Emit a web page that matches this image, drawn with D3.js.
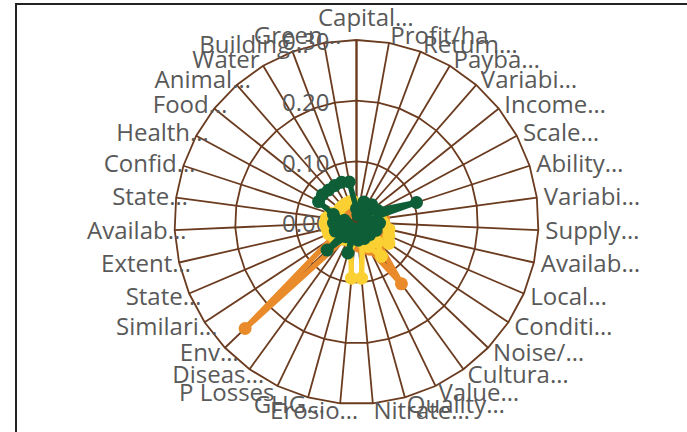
<!DOCTYPE html>
<html>
<head>
<meta charset="utf-8">
<script src="https://cdn.jsdelivr.net/npm/d3@7"></script>
<style>
  body { margin: 0; background: #fff; }
  text { font-family: "Open Sans", sans-serif; fill: #595959; }
</style>
</head>
<body>
<svg width="687" height="432"></svg>
<script>
// category labels as shown on the chart (truncated ones end with "…")
var categories = ["Capital…", "Profit/ha", "Return…", "Payba…", "Variabi…", "Income…",
  "Scale…", "Ability…", "Variabi…", "Supply…", "Availab…", "Local…", "Conditi…",
  "Noise/…", "Cultura…", "Value…", "Quality…", "Nitrate…", "Erosio…", "GHG…",
  "P Losses", "Diseas…", "Env…", "Similari…", "State…", "Extent…", "Availab…",
  "State…", "Confid…", "Health…", "Food…", "Animal…", "Water", "Building…", "Green…"];

var tickValues = [0, 0.1, 0.2, 0.3];

var seriesOrange = [0.02, 0.02, 0.02, 0.02, 0.025, 0.03, 0.035, 0.04, 0.045, 0.045,
  0.05, 0.05, 0.055, 0.05, 0.126, 0.05, 0.045, 0.04, 0.035, 0.03,
  0.03, 0.035, 0.254, 0.048, 0.045, 0.04, 0.035, 0.03, 0.025, 0.02,
  0.02, 0.02, 0.02, 0.02, 0.02];

var seriesYellow = [0.03, 0.025, 0.025, 0.025, 0.025, 0.03, 0.035, 0.035, 0.04, 0.045,
  0.055, 0.058, 0.064, 0.048, 0.07, 0.045, 0.035, 0.093, 0.093, 0.035,
  0.03, 0.035, 0.04, 0.045, 0.05, 0.05, 0.052, 0.05, 0.045, 0.035,
  0.035, 0.035, 0.035, 0.035, 0.035];

var seriesGreen = [0.022, 0.012, 0.035, 0.015, 0.038, 0.02, 0.04, 0.104, 0.015, 0.038,
  0.02, 0.035, 0.012, 0.03, 0.015, 0.03, 0.012, 0.03, 0.015, 0.053,
  0.012, 0.03, 0.067, 0.015, 0.038, 0.015, 0.038, 0.02, 0.04, 0.071,
  0.072, 0.07, 0.07, 0.07, 0.067];

var series = [
  {values: seriesOrange, color: "#e98b2a"},
  {values: seriesYellow, color: "#fbd033"},
  {values: seriesGreen, color: "#0e5e37"}
];

var svg = d3.select("svg"),
    cx = 356.5, cy = 222, R = 182,
    n = categories.length;

// frame
svg.append("rect")
    .attr("x", 16).attr("y", 4)
    .attr("width", 700).attr("height", 460)
    .attr("fill", "none")
    .attr("stroke", "#222")
    .attr("stroke-width", 2);

var r = d3.scaleLinear().domain([0, 0.3]).range([0, R]);
var angle = d3.scaleLinear().domain([0, n]).range([0, 2 * Math.PI]);

var g = svg.append("g").attr("transform", "translate(" + cx + "," + cy + ")");

var gridColor = "#6b3b1f";

// ring polygons
var ringLine = d3.lineRadial()
    .angle(function(d, i) { return angle(i); })
    .radius(function(d) { return r(d); })
    .curve(d3.curveLinearClosed);

tickValues.slice(1).forEach(function(t) {
  g.append("path")
      .attr("d", ringLine(categories.map(function() { return t; })))
      .attr("fill", "none")
      .attr("stroke", gridColor)
      .attr("stroke-width", 1.8);
});

// spokes
g.selectAll(".spoke")
  .data(categories)
  .enter().append("line")
    .attr("class", "spoke")
    .attr("x1", 0).attr("y1", 0)
    .attr("x2", function(d, i) { return r(0.3) * Math.sin(angle(i)); })
    .attr("y2", function(d, i) { return -r(0.3) * Math.cos(angle(i)); })
    .attr("stroke", gridColor)
    .attr("stroke-width", function(d, i) { return i === 0 ? 2.4 : 1.8; });

// radial tick labels
g.selectAll(".tick")
  .data(tickValues)
  .enter().append("text")
    .attr("class", "tick")
    .attr("x", -27)
    .attr("y", function(d) { return -r(d) + 2; })
    .attr("dy", "0.35em")
    .attr("text-anchor", "end")
    .style("font-size", "24px")
    .text(d3.format(".2f"));

// series
var seriesLine = d3.lineRadial()
    .angle(function(d, i) { return angle(i); })
    .radius(function(d) { return r(d); })
    .curve(d3.curveLinearClosed);

series.forEach(function(s) {
  var sg = g.append("g");
  sg.append("path")
      .attr("d", seriesLine(s.values))
      .attr("fill", "none")
      .attr("stroke", s.color)
      .attr("stroke-width", 5.5)
      .attr("stroke-linejoin", "round");
  sg.selectAll("circle")
    .data(s.values)
    .enter().append("circle")
      .attr("cx", function(d, i) { return r(d) * Math.sin(angle(i)); })
      .attr("cy", function(d, i) { return -r(d) * Math.cos(angle(i)); })
      .attr("r", 6.5)
      .attr("fill", s.color);
});

// category labels: placed by the text without the ellipsis, ellipsis overflows
var labelOff = 7;
categories.forEach(function(c, i) {
  var a = angle(i),
      s = Math.sin(a), co = Math.cos(a),
      ax = (R + labelOff) * s,
      ay = -(R + labelOff) * co;
  var base = c.replace("…", ""),
      trunc = c.indexOf("…") >= 0;
  var top = Math.abs(s) < 0.05;
  var t = g.append("text")
      .attr("y", top ? -(R + 22) : ay)
      .attr("dy", "0.35em")
      .style("font-size", "24px");
  var b = t.append("tspan").text(base);
  if (trunc) t.append("tspan").text("…");
  var w = b.node().getComputedTextLength();
  var x;
  if (top) x = ax - w / 2;
  else if (s > 0) x = ax;
  else x = ax - w;
  t.attr("x", x);
});
</script>
</body>
</html>
